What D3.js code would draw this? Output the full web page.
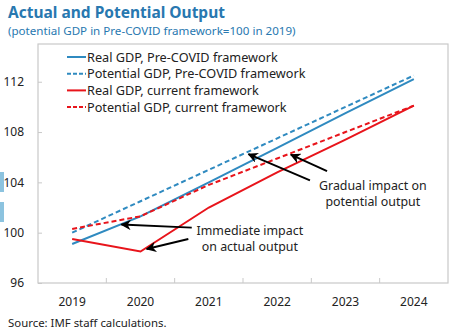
<!DOCTYPE html>
<html>
<head>
<meta charset="utf-8">
<script src="https://cdn.jsdelivr.net/npm/d3@7"></script>
<style>
  html, body { margin: 0; padding: 0; background: #fff; }
  svg { display: block; font-family: "Noto Sans", "Open Sans", sans-serif; }
</style>
</head>
<body>
<svg id="chart" width="473" height="334"></svg>
<script>
const years = [2019, 2020, 2021, 2022, 2023, 2024];
const realPre = [99.1, 101.3, 104.0, 106.75, 109.5, 112.2];
const potPre = [100.0, 102.5, 105.0, 107.5, 110.0, 112.5];
const realCur = [99.5, 98.5, 102.0, 104.8, 107.4, 110.1];
const potCur = [100.3, 101.3, 103.8, 105.9, 108.0, 110.1];
const yTicks = [96, 100, 104, 108, 112];

const seriesNames = [
  'Real GDP, Pre-COVID framework',
  'Potential GDP, Pre-COVID framework',
  'Real GDP, current framework',
  'Potential GDP, current framework'
];
const seriesValues = [realPre, potPre, realCur, potCur];
const seriesColors = ['#2f8ac0', '#2f8ac0', '#e8141b', '#e8141b'];
const seriesDashed = [false, true, false, true];

// arrow callouts: tail and tip given in (year, value) space
const notes = [
  { lines: ['Immediate impact', 'on actual output'], at: [2021.6, 99.85] },
  { lines: ['Gradual impact on', 'potential output'], at: [2023.4, 103.4] }
];
const arrows = [
  { from: [2020.75, 100.4], to: [2019.72, 100.65] },
  { from: [2020.70, 99.5], to: [2020.09, 98.7] },
  { from: [2022.48, 104.15], to: [2021.58, 106.25] },
  { from: [2022.73, 104.9], to: [2022.2, 106.2] }
];

const svg = d3.select('#chart');
const margin = { left: 38, right: 25, top: 44, bottom: 51 };
const W = 473, H = 334;
const iw = W - margin.left - margin.right;
const ih = H - margin.top - margin.bottom;

const band = d3.scaleBand().domain(years).range([margin.left, margin.left + iw]);
const x = v => band(Math.floor(v)) + band.bandwidth() / 2 + (v - Math.floor(v)) * band.step();
const y = d3.scaleLinear().domain([96, 115]).range([margin.top + ih, margin.top]);

// side tabs on the left edge
svg.append('rect').attr('x', 0).attr('y', 172).attr('width', 4).attr('height', 20).attr('fill', '#8cc3df');
svg.append('rect').attr('x', 0).attr('y', 202).attr('width', 4).attr('height', 20).attr('fill', '#8cc3df');

svg.append('text').attr('x', 8).attr('y', 18)
  .attr('font-size', 15.5).attr('font-weight', 'bold').attr('fill', '#2878b0')
  .text('Actual and Potential Output');
svg.append('text').attr('x', 8).attr('y', 35)
  .attr('font-size', 11.6).attr('fill', '#2878b0')
  .text('(potential GDP in Pre-COVID framework=100 in 2019)');

// plot frame
svg.append('rect')
  .attr('x', margin.left).attr('y', margin.top)
  .attr('width', iw).attr('height', ih)
  .attr('fill', 'none').attr('stroke', '#c9c9c9').attr('stroke-width', 1.2);

const yAxis = svg.append('g')
  .attr('transform', `translate(${margin.left},0)`)
  .call(d3.axisLeft(y).tickValues(yTicks).tickSize(-4).tickPadding(14));
yAxis.select('.domain').remove();
yAxis.selectAll('line').attr('stroke', '#c9c9c9');
yAxis.selectAll('text').attr('font-size', 12).attr('fill', '#222')
  .attr('font-family', '"Noto Sans", sans-serif');

const xAxis = svg.append('g')
  .attr('transform', `translate(0,${margin.top + ih})`);
xAxis.selectAll('line')
  .data(years.slice(1))
  .join('line')
  .attr('x1', d => band(d)).attr('x2', d => band(d))
  .attr('y1', 0).attr('y2', -5)
  .attr('stroke', '#c9c9c9');
xAxis.selectAll('text')
  .data(years)
  .join('text')
  .attr('x', d => x(d)).attr('y', 23)
  .attr('text-anchor', 'middle')
  .attr('font-size', 12).attr('fill', '#222')
  .text(d => d);

const line = d3.line().x((d, i) => x(years[i])).y(d => y(d));
svg.append('g')
  .selectAll('path')
  .data(seriesValues)
  .join('path')
  .attr('d', line)
  .attr('fill', 'none')
  .attr('stroke', (d, i) => seriesColors[i])
  .attr('stroke-width', 2)
  .attr('stroke-dasharray', (d, i) => seriesDashed[i] ? '5,3' : null);

// legend
const legend = svg.append('g').attr('transform', 'translate(67,57)');
seriesNames.forEach((name, i) => {
  const row = legend.append('g').attr('transform', `translate(0,${i * 16.7})`);
  row.append('line')
    .attr('x1', 0).attr('x2', 19).attr('y1', 0).attr('y2', 0)
    .attr('stroke', seriesColors[i]).attr('stroke-width', 2)
    .attr('stroke-dasharray', seriesDashed[i] ? '4,2' : null);
  row.append('text').attr('x', 20).attr('y', 4.6)
    .attr('font-size', 12.7).attr('fill', '#222')
    .text(name);
});

svg.append('defs').append('marker')
  .attr('id', 'head')
  .attr('viewBox', '0 0 10 10')
  .attr('refX', 9).attr('refY', 5)
  .attr('markerWidth', 5.5).attr('markerHeight', 5.5)
  .attr('orient', 'auto')
  .append('path').attr('d', 'M0,0 L10,5 L0,10 L3,5 Z').attr('fill', '#000');

svg.append('g')
  .selectAll('line')
  .data(arrows)
  .join('line')
  .attr('x1', d => x(d.from[0])).attr('y1', d => y(d.from[1]))
  .attr('x2', d => x(d.to[0])).attr('y2', d => y(d.to[1]))
  .attr('stroke', '#000').attr('stroke-width', 1.9)
  .attr('marker-end', 'url(#head)');

notes.forEach(n => {
  n.lines.forEach((s, i) => {
    svg.append('text')
      .attr('x', x(n.at[0]))
      .attr('y', y(n.at[1]) + i * 16.3)
      .attr('text-anchor', 'middle')
      .attr('font-size', 12.4).attr('fill', '#222')
      .text(s);
  });
});

svg.append('text').attr('x', 8).attr('y', 327)
  .attr('font-size', 11.4).attr('fill', '#222')
  .text('Source: IMF staff calculations.');
</script>
</body>
</html>
